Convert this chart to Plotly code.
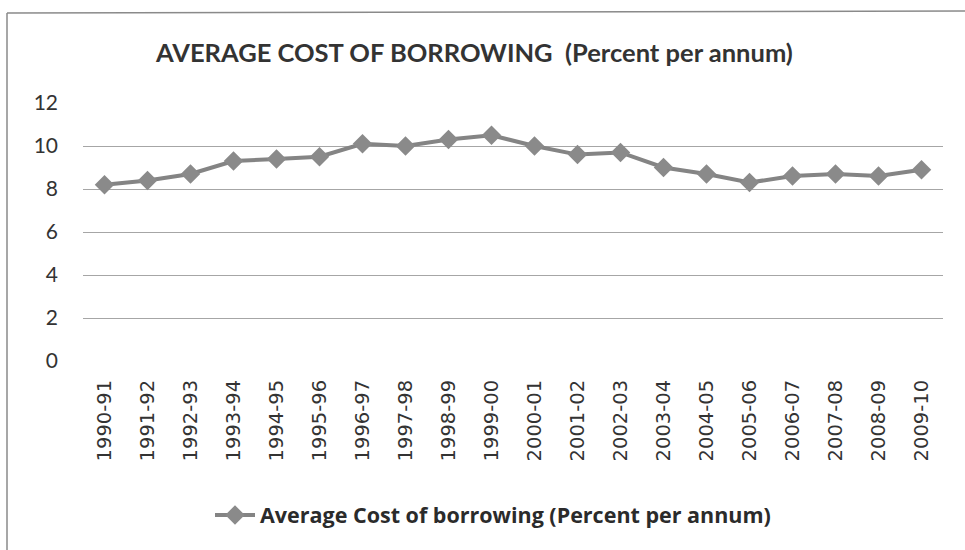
import plotly.graph_objects as go

years = ["1990-91", "1991-92", "1992-93", "1993-94", "1994-95", "1995-96", "1996-97",
         "1997-98", "1998-99", "1999-00", "2000-01", "2001-02", "2002-03", "2003-04",
         "2004-05", "2005-06", "2006-07", "2007-08", "2008-09", "2009-10"]
cost = [8.2, 8.4, 8.7, 9.3, 9.4, 9.5, 10.1, 10.0, 10.3, 10.5, 10.0, 9.6, 9.7, 9.0,
        8.7, 8.3, 8.6, 8.7, 8.6, 8.9]
y_ticks = [0, 2, 4, 6, 8, 10, 12]

W, H = 965, 550
L, R, T, B = 83, 22, 103, 189
pw, ph = W - L - R, H - T - B

fig = go.Figure()
fig.add_trace(go.Scatter(
    x=years, y=cost, mode="lines+markers",
    name="<b>Average Cost of borrowing (Percent per annum)</b>",
    line=dict(color="#848484", width=4),
    marker=dict(symbol="diamond", size=15, color="#8a8a8a"),
))

def px_x(x):
    return (x - L) / pw

def px_y(y):
    return (H - B - y) / ph

fig.update_layout(
    width=W, height=H,
    margin=dict(l=L, r=R, t=T, b=B),
    paper_bgcolor="white", plot_bgcolor="white",
    font=dict(family="Lato, Open Sans, sans-serif", color="#333333"),
    showlegend=True,
    legend=dict(orientation="h", x=px_x(493), xanchor="center", y=px_y(515), yanchor="middle",
                font=dict(size=21.5, color="#2b2b2b", family="Open Sans, sans-serif"),
                itemwidth=40),
    xaxis=dict(type="category", tickangle=-90,
               tickfont=dict(size=19.5, color="#333333", family="DejaVu Sans, sans-serif"),
               showgrid=False, showline=False, ticks="", range=[-0.5, len(years) - 0.5],
               ticklabelstandoff=14),
    yaxis=dict(range=[0, 12], tickvals=y_ticks, tickfont=dict(size=21, color="#333333"),
               showgrid=True, gridcolor="#a6a6a6", gridwidth=1, zeroline=False,
               showline=False, ticks="", ticklabelstandoff=24),
    annotations=[dict(
        text="<b>AVERAGE COST OF BORROWING  (Percent per annum)</b>",
        xref="paper", yref="paper", x=px_x(474), y=px_y(52),
        xanchor="center", yanchor="middle", showarrow=False,
        font=dict(size=25.5, color="#333333", family="Lato, sans-serif"),
    )],
    shapes=[
        dict(type="line", xref="paper", yref="paper", x0=px_x(7), x1=px_x(7),
             y0=px_y(13), y1=px_y(552), line=dict(color="#8a8a8a", width=1.5)),
        dict(type="line", xref="paper", yref="paper", x0=px_x(7), x1=px_x(966),
             y0=px_y(13), y1=px_y(11), line=dict(color="#8a8a8a", width=1.5)),
    ],
)

fig.write_html("out.html")
